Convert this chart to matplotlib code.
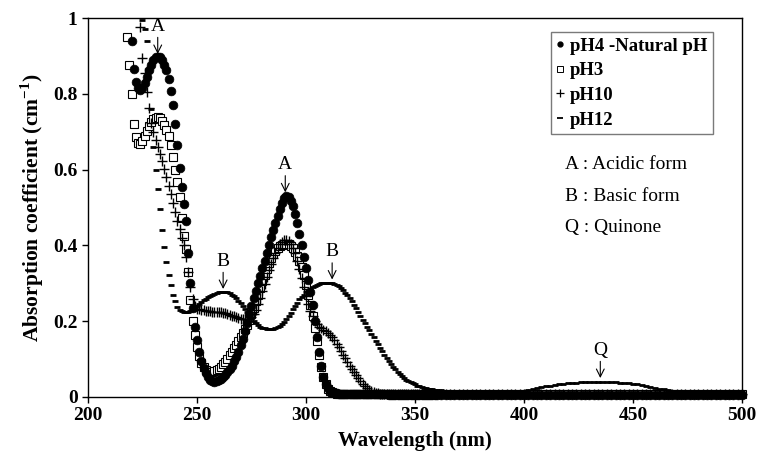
import numpy as np
import matplotlib
matplotlib.use("Agg")
import matplotlib.pyplot as plt
from matplotlib.lines import Line2D

plt.rcParams['font.family'] = ['Liberation Serif', 'DejaVu Serif']
plt.rcParams['mathtext.fontset'] = 'custom'
plt.rcParams['mathtext.rm'] = 'Liberation Serif'
plt.rcParams['mathtext.bf'] = 'Liberation Serif:bold'

# wavelength grids (nm): 1 nm steps up to 360, then 2 nm steps
wl_dense = np.arange(218, 361)
wl_tail = np.arange(362, 501, 2)

# absorption coefficients, 218..360 nm
ph4_dense = [
    None, None, 0.94, 0.865, 0.83, 0.815, 0.81, 0.815, 0.828, 0.845,
    0.862, 0.877, 0.889, 0.896, 0.898, 0.896, 0.889, 0.877, 0.862, 0.84,
    0.808, 0.77, 0.72, 0.665, 0.605, 0.555, 0.51, 0.465, 0.38, 0.30,
    0.235, 0.185, 0.15, 0.12, 0.096, 0.077, 0.062, 0.052, 0.045, 0.041,
    0.04, 0.041, 0.044, 0.048, 0.053, 0.059, 0.066, 0.074, 0.083, 0.094,
    0.106, 0.12, 0.136, 0.154, 0.174, 0.196, 0.218, 0.239, 0.26, 0.28,
    0.30, 0.32, 0.34, 0.36, 0.38, 0.401, 0.421, 0.44, 0.458, 0.477,
    0.495, 0.511, 0.524, 0.53, 0.527, 0.518, 0.503, 0.482, 0.458, 0.43,
    0.40, 0.37, 0.34, 0.31, 0.278, 0.242, 0.20, 0.158, 0.118, 0.082,
    0.054, 0.035, 0.024, 0.017, 0.013, 0.011, 0.01, 0.009, 0.008, 0.008,
    0.007, 0.007, 0.007, 0.007, 0.007, 0.007, 0.007, 0.007, 0.007, 0.007,
    0.007, 0.007, 0.007, 0.007, 0.007, 0.007, 0.007, 0.007, 0.007, 0.007,
    0.006, 0.006, 0.006, 0.006, 0.006, 0.006, 0.006, 0.006, 0.006, 0.006,
    0.006, 0.006, 0.006, 0.006, 0.006, 0.006, 0.006, 0.006, 0.006, 0.006,
    0.006, 0.006, 0.006,
]
ph3_dense = [
    0.95, 0.875, 0.80, 0.72, 0.685, 0.671, 0.668, 0.675, 0.688, 0.703,
    0.716, 0.726, 0.733, 0.737, 0.738, 0.735, 0.728, 0.717, 0.704, 0.688,
    0.665, 0.632, 0.60, 0.568, 0.528, 0.472, 0.425, 0.39, 0.33, 0.255,
    0.20, 0.163, 0.132, 0.108, 0.091, 0.08, 0.072, 0.067, 0.065, 0.066,
    0.068, 0.071, 0.075, 0.08, 0.086, 0.093, 0.101, 0.11, 0.119, 0.128,
    0.138, 0.148, 0.158, 0.168, 0.179, 0.19, 0.202, 0.218, 0.235, 0.252,
    0.27, 0.288, 0.306, 0.323, 0.339, 0.353, 0.366, 0.377, 0.386, 0.393,
    0.398, 0.402, 0.404, 0.405, 0.403, 0.399, 0.392, 0.383, 0.372, 0.358,
    0.342, 0.322, 0.296, 0.27, 0.243, 0.215, 0.182, 0.147, 0.112, 0.08,
    0.052, 0.033, 0.021, 0.015, 0.012, 0.01, 0.009, 0.009, 0.008, 0.008,
    0.008, 0.008, 0.008, 0.008, 0.008, 0.008, 0.008, 0.008, 0.008, 0.008,
    0.007, 0.007, 0.007, 0.007, 0.007, 0.007, 0.007, 0.007, 0.007, 0.007,
    0.007, 0.007, 0.007, 0.007, 0.007, 0.007, 0.007, 0.007, 0.007, 0.007,
    0.007, 0.007, 0.007, 0.007, 0.007, 0.007, 0.007, 0.007, 0.007, 0.007,
    0.007, 0.007, 0.007,
]
ph10_dense = [
    None, None, None, None, None, None, 0.975, 0.895, 0.855, 0.805,
    0.762, 0.722, 0.698, 0.678, 0.66, 0.642, 0.622, 0.602, 0.58, 0.558,
    0.536, 0.512, 0.488, 0.464, 0.442, 0.42, 0.40, 0.37, 0.33, 0.29,
    0.258, 0.24, 0.233, 0.231, 0.23, 0.229, 0.228, 0.227, 0.226, 0.225,
    0.224, 0.224, 0.223, 0.223, 0.222, 0.221, 0.219, 0.217, 0.215, 0.213,
    0.211, 0.209, 0.207, 0.206, 0.205, 0.205, 0.206, 0.21, 0.218, 0.23,
    0.245, 0.262, 0.28, 0.298, 0.316, 0.334, 0.351, 0.367, 0.381, 0.393,
    0.403, 0.41, 0.414, 0.415, 0.412, 0.405, 0.394, 0.379, 0.36, 0.338,
    0.314, 0.29, 0.267, 0.246, 0.228, 0.213, 0.201, 0.192, 0.186, 0.181,
    0.178, 0.175, 0.17, 0.164, 0.158, 0.15, 0.141, 0.132, 0.122, 0.112,
    0.102, 0.092, 0.083, 0.074, 0.065, 0.057, 0.049, 0.042, 0.035, 0.029,
    0.024, 0.019, 0.016, 0.013, 0.011, 0.01, 0.009, 0.009, 0.009, 0.008,
    0.008, 0.008, 0.008, 0.008, 0.008, 0.008, 0.008, 0.008, 0.008, 0.008,
    0.008, 0.008, 0.008, 0.008, 0.008, 0.008, 0.008, 0.008, 0.008, 0.008,
    0.008, 0.008, 0.008,
]
ph12_dense = [
    None, None, None, None, None, None, None, 0.995, 0.97, 0.94,
    0.86, 0.76, 0.66, 0.60, 0.55, 0.495, 0.44, 0.395, 0.355, 0.322,
    0.295, 0.27, 0.252, 0.237, 0.23, 0.226, 0.224, 0.224, 0.225, 0.227,
    0.231, 0.235, 0.24, 0.245, 0.25, 0.255, 0.259, 0.263, 0.267, 0.27,
    0.273, 0.275, 0.277, 0.278, 0.278, 0.278, 0.276, 0.274, 0.27, 0.266,
    0.26, 0.254, 0.247, 0.24, 0.232, 0.224, 0.216, 0.208, 0.201, 0.195,
    0.19, 0.186, 0.183, 0.181, 0.18, 0.179, 0.179, 0.18, 0.181, 0.184,
    0.188, 0.193, 0.199, 0.206, 0.214, 0.222, 0.231, 0.24, 0.249, 0.258,
    0.264, 0.27, 0.276, 0.281, 0.286, 0.29, 0.293, 0.296, 0.298, 0.30,
    0.301, 0.302, 0.302, 0.302, 0.301, 0.299, 0.296, 0.292, 0.287, 0.281,
    0.275, 0.268, 0.26, 0.252, 0.243, 0.234, 0.224, 0.214, 0.204, 0.194,
    0.185, 0.176, 0.167, 0.158, 0.148, 0.139, 0.13, 0.121, 0.112, 0.103,
    0.095, 0.087, 0.08, 0.073, 0.067, 0.061, 0.056, 0.051, 0.046, 0.042,
    0.039, 0.036, 0.033, 0.03, 0.028, 0.026, 0.024, 0.023, 0.022, 0.021,
    0.02, 0.019, 0.018,
]

# 362..500 nm, 2 nm steps
ph4_tail = [
    0.006, 0.006, 0.006, 0.006, 0.006, 0.006, 0.006, 0.006, 0.006, 0.006,
    0.006, 0.006, 0.006, 0.006, 0.006, 0.006, 0.006, 0.006, 0.006, 0.006,
    0.006, 0.006, 0.006, 0.006, 0.006, 0.006, 0.006, 0.006, 0.006, 0.006,
    0.006, 0.006, 0.006, 0.006, 0.006, 0.006, 0.006, 0.006, 0.006, 0.006,
    0.006, 0.006, 0.006, 0.006, 0.006, 0.006, 0.006, 0.006, 0.006, 0.006,
    0.006, 0.006, 0.006, 0.006, 0.006, 0.006, 0.006, 0.006, 0.006, 0.006,
    0.006, 0.006, 0.006, 0.006, 0.006, 0.006, 0.006, 0.006, 0.006, 0.006,
]
ph3_tail = [
    0.007, 0.007, 0.007, 0.007, 0.007, 0.007, 0.007, 0.007, 0.007, 0.007,
    0.007, 0.007, 0.007, 0.007, 0.007, 0.007, 0.007, 0.007, 0.007, 0.007,
    0.007, 0.007, 0.007, 0.007, 0.007, 0.007, 0.007, 0.007, 0.007, 0.007,
    0.007, 0.007, 0.007, 0.007, 0.007, 0.007, 0.007, 0.007, 0.007, 0.007,
    0.007, 0.007, 0.007, 0.007, 0.007, 0.007, 0.007, 0.007, 0.007, 0.007,
    0.007, 0.007, 0.007, 0.007, 0.007, 0.007, 0.007, 0.007, 0.007, 0.007,
    0.007, 0.007, 0.007, 0.007, 0.007, 0.007, 0.007, 0.007, 0.007, 0.007,
]
ph10_tail = [
    0.008, 0.008, 0.008, 0.008, 0.008, 0.008, 0.008, 0.008, 0.008, 0.008,
    0.008, 0.008, 0.008, 0.008, 0.008, 0.008, 0.008, 0.008, 0.008, 0.008,
    0.008, 0.008, 0.008, 0.008, 0.008, 0.008, 0.008, 0.008, 0.008, 0.008,
    0.008, 0.008, 0.008, 0.008, 0.008, 0.008, 0.008, 0.008, 0.008, 0.008,
    0.008, 0.008, 0.008, 0.008, 0.008, 0.008, 0.008, 0.008, 0.008, 0.008,
    0.008, 0.008, 0.008, 0.008, 0.008, 0.008, 0.008, 0.008, 0.008, 0.008,
    0.008, 0.008, 0.008, 0.008, 0.008, 0.008, 0.008, 0.008, 0.008, 0.008,
]
ph12_tail = [
    0.018, 0.017, 0.017, 0.017, 0.017, 0.017, 0.017, 0.017, 0.017, 0.017,
    0.017, 0.017, 0.017, 0.017, 0.017, 0.017, 0.017, 0.017, 0.017, 0.017,
    0.018, 0.021, 0.024, 0.026, 0.028, 0.03, 0.032, 0.034, 0.035, 0.036,
    0.037, 0.038, 0.039, 0.039, 0.04, 0.04, 0.04, 0.04, 0.04, 0.039,
    0.039, 0.038, 0.037, 0.036, 0.034, 0.033, 0.031, 0.029, 0.027, 0.025,
    0.022, 0.02, 0.018, 0.017, 0.017, 0.017, 0.017, 0.017, 0.017, 0.017,
    0.017, 0.017, 0.017, 0.017, 0.017, 0.017, 0.017, 0.017, 0.017, 0.017,
]

labels = ['pH4 -Natural pH', 'pH3', 'pH10', 'pH12']
x_ticks = [200, 250, 300, 350, 400, 450, 500]
y_ticks = [0, 0.2, 0.4, 0.6, 0.8, 1]
y_ticklabels = ['0', '0.2', '0.4', '0.6', '0.8', '1']
peak_marks = [('A', 232, 0.905), ('A', 290.5, 0.54), ('B', 262, 0.285),
              ('B', 312, 0.31), ('Q', 435, 0.05)]
key_text = ['A : Acidic form', 'B : Basic form', 'Q : Quinone']

wl = np.concatenate([wl_dense, wl_tail])


def series(dense, tail):
    return np.array([np.nan if v is None else v for v in dense + tail], dtype=float)


styles = [
    dict(marker='o', ms=6.3, mfc='black', mec='black', mew=0.5, zorder=3),
    dict(marker='s', ms=5.2, mfc='white', mec='black', mew=0.8, zorder=2),
    dict(marker='+', ms=7, mec='black', mew=1.0, zorder=4),
    dict(marker='_', ms=4.5, mec='black', mew=2.0, zorder=5),
]
data = [series(ph4_dense, ph4_tail), series(ph3_dense, ph3_tail),
        series(ph10_dense, ph10_tail), series(ph12_dense, ph12_tail)]

fig = plt.figure(figsize=(7.57, 4.57), dpi=100)
ax = fig.add_axes([0.1162, 0.1313, 0.864, 0.8293])

for y, st in zip(data, styles):
    ax.plot(wl, y, linestyle='none', color='black', clip_on=False, **st)

ax.set_xlim(200, 500)
ax.set_ylim(0, 1)
ax.set_xticks(x_ticks)
ax.set_yticks(y_ticks)
ax.set_yticklabels(y_ticklabels)
ax.tick_params(direction='out', length=4, width=1, labelsize=14)
for lab in ax.get_xticklabels() + ax.get_yticklabels():
    lab.set_fontweight('bold')
for sp in ax.spines.values():
    sp.set_linewidth(1)

ax.set_xlabel('Wavelength (nm)', fontsize=15, fontweight='bold', labelpad=5)
ax.set_ylabel(r'Absorption coefficient (cm$^{\mathbf{-1}}$)', fontsize=15.5,
              fontweight='bold', labelpad=5)

for letter, x, y in peak_marks:
    ax.annotate(letter, xy=(x, y), xytext=(0, 14), textcoords='offset points',
                ha='center', va='bottom', fontsize=14,
                arrowprops=dict(arrowstyle='->', lw=0.8, color='black',
                                shrinkA=0, shrinkB=0))

for i, t in enumerate(key_text):
    ax.text(0.73, 0.614 - i * 0.084, t, transform=ax.transAxes, fontsize=14,
            va='center', ha='left')

handles = [Line2D([], [], linestyle='none', color='black', marker='o', ms=3.5),
           Line2D([], [], linestyle='none', color='black', marker='s', ms=4,
                  mfc='white', mew=0.7),
           Line2D([], [], linestyle='none', color='black', marker='+', ms=6, mew=0.9),
           Line2D([], [], linestyle='none', color='black', marker='_', ms=4, mew=1.3)]
leg = ax.legend(handles, labels, loc='upper left', bbox_to_anchor=(0.708, 0.963),
                borderaxespad=0, frameon=True, fancybox=False, edgecolor='0.35',
                handlelength=0.4, handletextpad=0.3, labelspacing=0.4,
                borderpad=0.3, prop=dict(weight='bold', size=13.5))
leg.get_frame().set_linewidth(1)

fig.savefig('out.png', dpi=100)
